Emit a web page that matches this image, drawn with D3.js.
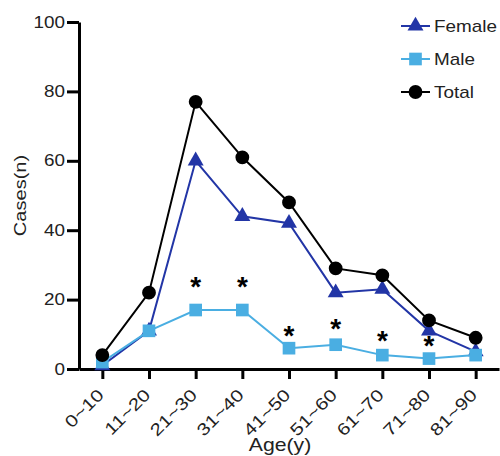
<!DOCTYPE html>
<html>
<head>
<meta charset="utf-8">
<script src="https://cdn.jsdelivr.net/npm/d3@7"></script>
<style>
  body { margin: 0; background: #fff; }
  svg { display: block; font-family: "Liberation Sans", Arial, sans-serif; }
</style>
</head>
<body>
<div id="chart"></div>
<script>
// age groups on the x axis
const ageGroups = ["0~10", "11~20", "21~30", "31~40", "41~50", "51~60", "61~70", "71~80", "81~90"];

// cases per age group
const femaleCases = [1, 11, 60, 44, 42, 22, 23, 11, 5];
const maleCases = [2, 11, 17, 17, 6, 7, 4, 3, 4];
const totalCases = [4, 22, 77, 61, 48, 29, 27, 14, 9];

// significance marks: age group + height (in cases) where the star sits
const starGroups = ["21~30", "31~40", "41~50", "51~60", "61~70", "71~80"];
const starLevels = [25, 25, 11, 13, 9.5, 8];

const yTicks = [0, 20, 40, 60, 80, 100];

const width = 500, height = 456;
const margin = { top: 22, right: 1, bottom: 87, left: 79 };
const stretch = 1.18; // the original lettering is a bit wider than Arial

const svg = d3.select("#chart").append("svg")
  .attr("width", width)
  .attr("height", height);

const x = d3.scalePoint()
  .domain(ageGroups)
  .range([margin.left, width - margin.right])
  .padding(0.5);

const y = d3.scaleLinear()
  .domain([0, 100])
  .range([height - margin.bottom, margin.top]);

// y axis
const yAxis = svg.append("g")
  .attr("transform", `translate(${margin.left},0)`)
  .call(d3.axisLeft(y).tickValues(yTicks).tickSize(12).tickPadding(2).tickSizeOuter(0));
yAxis.select(".domain").attr("stroke-width", 3);
yAxis.selectAll(".tick line").attr("stroke-width", 3);
yAxis.selectAll(".tick text")
  .attr("font-size", 16)
  .attr("fill", "#222")
  .attr("x", 0)
  .attr("transform", `translate(-14,0) scale(${stretch},1)`);

// x axis
const xAxis = svg.append("g")
  .attr("transform", `translate(0,${y(0)})`)
  .call(d3.axisBottom(x).tickSize(10).tickSizeOuter(0));
xAxis.select(".domain").attr("stroke-width", 3);
xAxis.selectAll(".tick line").attr("stroke-width", 3);
xAxis.selectAll(".tick text")
  .attr("font-size", 17)
  .attr("fill", "#222")
  .attr("text-anchor", "end")
  .attr("dy", null)
  .attr("y", 0)
  .attr("transform", `translate(2,27) rotate(-45) scale(${stretch + 0.04},1)`);

// axis titles
svg.append("text")
  .attr("transform", `translate(26,${(y(0) + y(100)) / 2}) rotate(-90) scale(${stretch},1)`)
  .attr("text-anchor", "middle")
  .attr("font-size", 17)
  .attr("fill", "#222")
  .text("Cases(n)");

svg.append("text")
  .attr("transform", `translate(280,451) scale(${stretch},1)`)
  .attr("text-anchor", "middle")
  .attr("font-size", 18)
  .attr("fill", "#222")
  .text("Age(y)");

const series = [
  { name: "Female", values: femaleCases, color: "#2235a6", shape: d3.symbolTriangle, size: 110 },
  { name: "Male", values: maleCases, color: "#4aaee2", shape: d3.symbolSquare, size: 160 },
  { name: "Total", values: totalCases, color: "#000000", shape: d3.symbolCircle, size: 150 }
];

const line = d3.line()
  .x((d, i) => x(ageGroups[i]))
  .y(d => y(d));

// draw lines + markers (female first, total on top)
for (const s of series) {
  const g = svg.append("g").attr("class", "series");
  g.append("path")
    .datum(s.values)
    .attr("d", line)
    .attr("fill", "none")
    .attr("stroke", s.color)
    .attr("stroke-width", 2);

  g.selectAll("path.marker")
    .data(s.values)
    .enter()
    .append("path")
    .attr("class", "marker")
    .attr("d", d3.symbol().type(s.shape).size(s.size))
    .attr("transform", (d, i) => `translate(${x(ageGroups[i])},${y(d)})`)
    .attr("fill", s.color);
}

// stars
svg.selectAll("text.star")
  .data(starGroups)
  .enter()
  .append("text")
  .attr("class", "star")
  .attr("x", d => x(d))
  .attr("y", (d, i) => y(starLevels[i]) + 14)
  .attr("text-anchor", "middle")
  .attr("font-size", 28)
  .attr("font-weight", "bold")
  .text("*");

// legend
const legend = svg.append("g").attr("transform", "translate(401,26)");
series.forEach((s, i) => {
  const row = legend.append("g").attr("transform", `translate(0,${i * 33})`);
  row.append("line")
    .attr("x1", 0).attr("x2", 29)
    .attr("stroke", s.color)
    .attr("stroke-width", 2);
  row.append("path")
    .attr("d", d3.symbol().type(s.shape).size(s.size))
    .attr("transform", "translate(14.5,0)")
    .attr("fill", s.color);
  row.append("text")
    .attr("transform", `translate(33,6) scale(${stretch},1)`)
    .attr("font-size", 16)
    .attr("fill", "#222")
    .text(s.name);
});
</script>
</body>
</html>
